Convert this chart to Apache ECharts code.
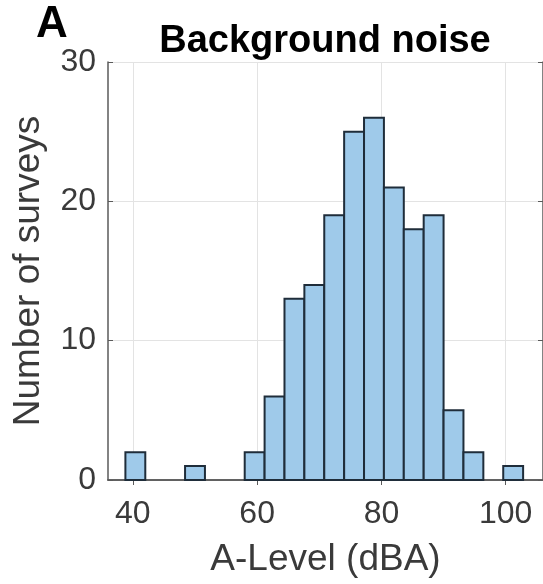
<!DOCTYPE html>
<html>
<head>
<meta charset="utf-8">
<script src="https://cdn.jsdelivr.net/npm/echarts@6/dist/echarts.min.js"></script>
<style>
  html, body { margin: 0; padding: 0; background: #fff; }
  #main { width: 543px; height: 584px; }
</style>
</head>
<body>
<div id="main"></div>
<script>
// 直方图的分箱边界 (dBA)
const binEdges = [38.8, 42.0, 45.2, 48.4, 51.6, 54.8, 58.0, 61.2, 64.4, 67.6, 70.8,
                  74.0, 77.2, 80.4, 83.6, 86.8, 90.0, 93.2, 96.4, 99.6, 102.8];
// 每个分箱的调查数量
const counts = [2, 0, 0, 1, 0, 0, 2, 6, 13, 14, 19, 25, 26, 21, 18, 19, 5, 2, 0, 1];
const xTicks = [40, 60, 80, 100];

const font = "'Liberation Sans', Arial, sans-serif";

// 组装成 [起点, 终点, 数量]
let bins = [];
for (let i = 0; i < counts.length; i++) {
    if (counts[i] > 0) bins.push([binEdges[i], binEdges[i + 1], counts[i]]);
}

const chart = echarts.init(document.getElementById('main'), null, {renderer: 'canvas'});

const gridLine = {show: true, lineStyle: {color: '#e3e3e3', width: 1}};
const axisLine = {show: true, lineStyle: {color: '#5a5a5a', width: 1.5}};

let option = {
    animation: false,
    backgroundColor: '#fff',
    grid: {left: 108, right: 0, top: 62, bottom: 104},
    graphic: [
        {
            type: 'text', left: 36, top: 3,
            style: {text: 'A', font: 'bold 44px ' + font, fill: '#000'}
        },
        {
            type: 'text', x: 325, y: 42,
            style: {text: 'Background noise', font: 'bold 38px ' + font, fill: '#000',
                    textAlign: 'center', textVerticalAlign: 'middle'}
        }
    ],
    xAxis: [
        {
            type: 'value', min: 36, max: 106, position: 'bottom',
            name: 'A-Level (dBA)', nameLocation: 'middle', nameGap: 61,
            nameTextStyle: {fontFamily: font, fontSize: 37, color: '#3a3a3a'},
            axisLine: axisLine,
            axisTick: {show: true, inside: true, length: 5, customValues: xTicks,
                       lineStyle: {color: '#5a5a5a'}},
            axisLabel: {customValues: xTicks, fontFamily: font, fontSize: 32,
                        color: '#3a3a3a', margin: 18},
            splitLine: gridLine
        },
        {
            type: 'value', min: 36, max: 106, position: 'top',
            axisLine: axisLine,
            axisTick: {show: true, inside: true, length: 5, customValues: xTicks,
                       lineStyle: {color: '#5a5a5a'}},
            axisLabel: {show: false},
            splitLine: {show: false}
        }
    ],
    yAxis: [
        {
            type: 'value', min: 0, max: 30, interval: 10, position: 'left',
            name: 'Number of surveys', nameLocation: 'middle', nameGap: 61,
            nameTextStyle: {fontFamily: font, fontSize: 37, color: '#3a3a3a'},
            axisLine: axisLine,
            axisTick: {show: true, inside: true, length: 5, lineStyle: {color: '#5a5a5a'}},
            axisLabel: {fontFamily: font, fontSize: 32, color: '#3a3a3a', margin: 12},
            splitLine: gridLine
        },
        {
            type: 'value', min: 0, max: 30, interval: 10, position: 'right',
            axisLine: axisLine,
            axisTick: {show: true, inside: true, length: 5, lineStyle: {color: '#5a5a5a'}},
            axisLabel: {show: false},
            splitLine: {show: false}
        }
    ],
    series: [
        {
            name: 'Background noise',
            type: 'custom',
            xAxisIndex: 0,
            yAxisIndex: 0,
            encode: {x: [0, 1], y: 2},
            data: bins,
            renderItem: function (params, api) {
                // 用坐标轴把分箱换算成像素
                let topLeft = api.coord([api.value(0), api.value(2)]);
                let bottomRight = api.coord([api.value(1), 0]);
                return {
                    type: 'rect',
                    shape: {
                        x: topLeft[0],
                        y: topLeft[1],
                        width: bottomRight[0] - topLeft[0],
                        height: bottomRight[1] - topLeft[1]
                    },
                    style: {fill: '#9fcaea', stroke: '#1f2d3a', lineWidth: 2}
                };
            },
            z: 3
        }
    ]
};

chart.setOption(option);
</script>
</body>
</html>
